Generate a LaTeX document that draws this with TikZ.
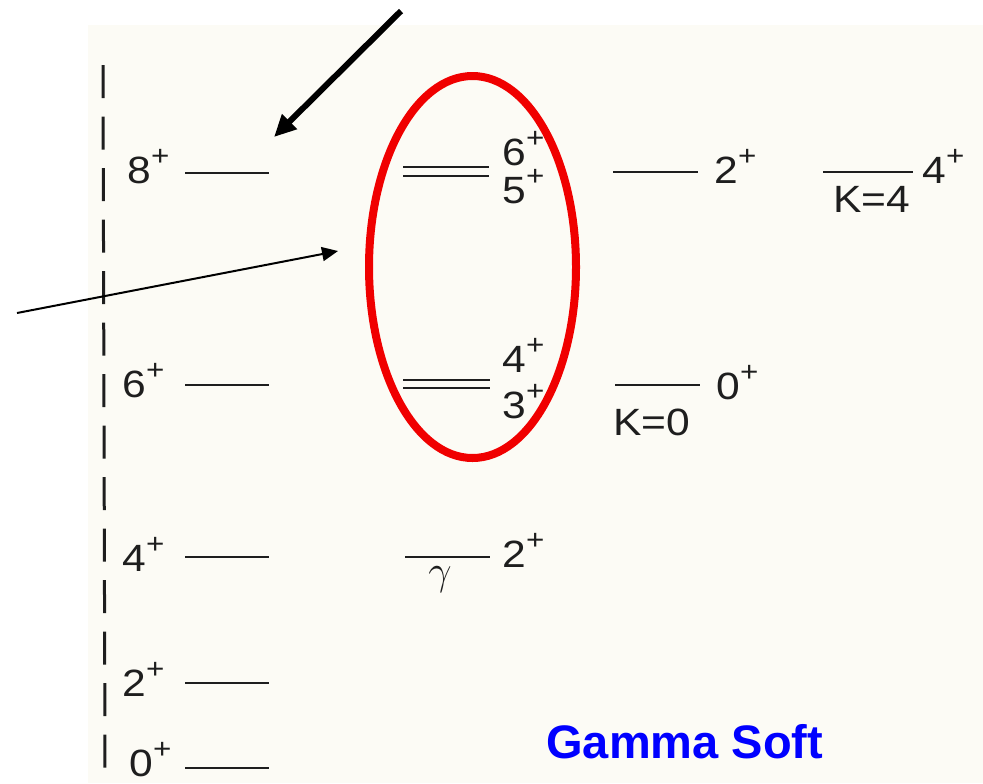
\documentclass[tikz,border=0pt]{standalone}
\usepackage{fontspec}
\setmainfont{Liberation Sans}
\newfontfamily\scanfont[FakeStretch=1.12]{Liberation Sans}
\usetikzlibrary{arrows.meta,positioning,shapes.geometric}
\definecolor{scanbg}{RGB}{252,251,245}
\definecolor{ink}{RGB}{30,30,30}
\definecolor{ringred}{RGB}{240,0,0}
\newcommand\pp{\raisebox{9pt}[0pt][0pt]{\fontsize{14pt}{14pt}\selectfont +}}

\begin{document}
\begin{tikzpicture}[x=0.5pt,y=-0.5pt,>=Triangle,
  lvl/.style={draw=ink,line width=1pt},
  spin/.style={inner sep=0pt,anchor=base west,text=ink,font=\scanfont\fontsize{19pt}{21pt}\selectfont},
  axis/.style={draw=ink,line width=1.5pt,dash pattern=on 16.5pt off 9.25pt},
  bigarrow/.style={->,draw=black,line width=3pt,>={Triangle[length=11pt,width=10pt]}},
  thinarrow/.style={->,draw=black,line width=1pt,>={Triangle[length=8pt,width=7pt]}}]
\useasboundingbox (0,0) rectangle (983,783);
\fill[scanbg] (88,25) rectangle (983,783);

% ground band
\draw[axis] (103,65) -- (105,772);
\foreach \J/\y/\lx/\lb in {8/173/127/183, 6/385/122/397, 4/557/122/571, 2/683/122/696, 0/768/129/776}{
  \draw[lvl] (185,\y) -- (269,\y);
  \node[spin] (g\J) at (\lx,\lb) {\J\pp};
}

% doublets
\draw[lvl] (403,167) -- (489,167);
\draw[lvl] (403,176) -- (489,176);
\node[spin] (s6) at (502,165) {6\pp};
\node[spin] (s5) at (502,203) {5\pp};
\draw[lvl] (403,380) -- (490,380);
\draw[lvl] (403,388) -- (490,388);
\node[spin] (s4) at (502,372) {4\pp};
\node[spin] (s3) at (502,418) {3\pp};

% gamma band
\draw[lvl] (405,557) -- (490,557);
\node[spin] (gam2) at (502,567) {2\pp};
\node[inner sep=0pt,text=ink,font=\fontsize{21pt}{23pt}\selectfont] (gam) at (440,580) {$\gamma$};

% K bands
\draw[lvl] (613,172) -- (698,172);
\node[spin] (k2) at (714,183) {2\pp};
\draw[lvl] (615,385) -- (700,385);
\node[spin] (k0) at (716,399) {0\pp};
\node[spin] (k0lab) at (613,435) {K=0};
\draw[lvl] (823,172) -- (913,172);
\node[spin] (k4) at (922,183) {4\pp};
\node[spin] (k4lab) at (833,212) {K=4};

% highlight
\node[ellipse,draw=ringred,line width=4pt,inner sep=0pt,minimum width=103.5pt,minimum height=191pt] (ring) at (472.5,267) {};
\coordinate (bigtail) at (401,11);
\coordinate (bighead) at (274,137);
\draw[bigarrow] (bigtail) -- (bighead);
\coordinate (thintail) at (17,313);
\coordinate (thinhead) at (338,251);
\draw[thinarrow] (thintail) -- (thinhead);

\node[anchor=base west,inner sep=0pt,text=blue,font=\bfseries\fontsize{23.5pt}{26pt}\selectfont] (title) at (546,758) {Gamma Soft};
\end{tikzpicture}
\end{document}
